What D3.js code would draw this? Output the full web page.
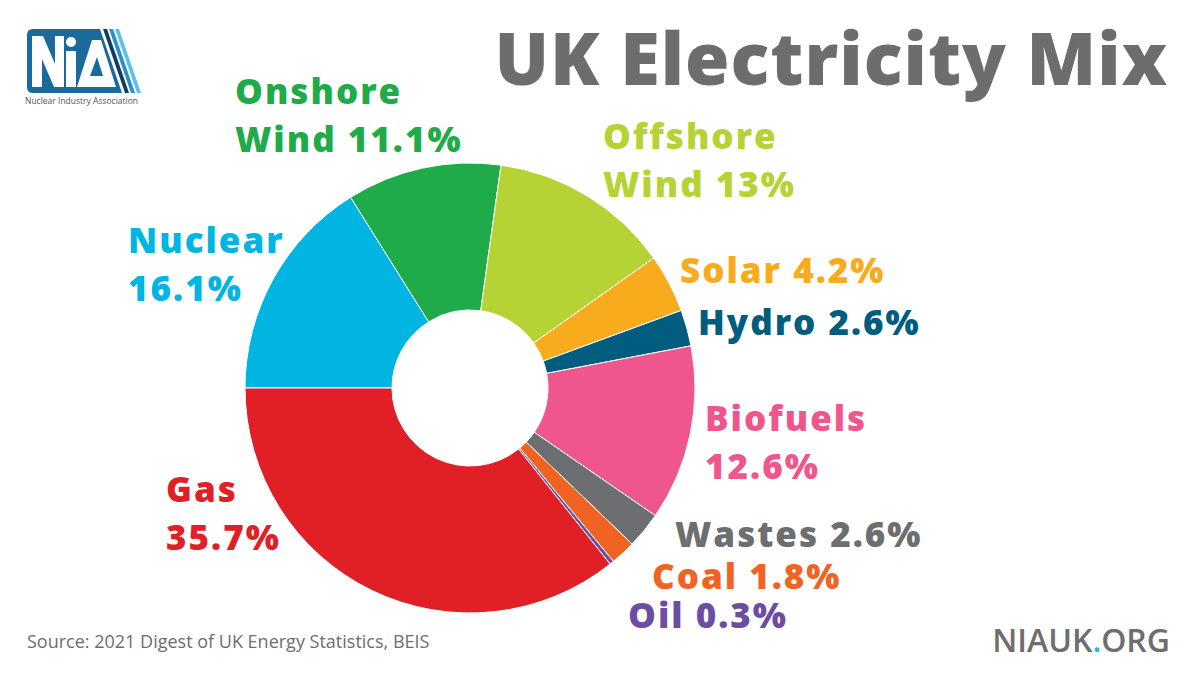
<!DOCTYPE html>
<html>
<head>
<meta charset="utf-8">
<script src="https://cdn.jsdelivr.net/npm/d3@7"></script>
<style>
  html, body { margin: 0; padding: 0; background: #fff; }
  svg { display: block; }
  .lbl { font-family: 'Open Sans', sans-serif; font-weight: 800; letter-spacing: 2px; }
</style>
</head>
<body>
<div id="chart"></div>
<script>
// data -----------------------------------
var sources = ['Nuclear', 'Onshore Wind', 'Offshore Wind', 'Solar', 'Hydro', 'Biofuels', 'Wastes', 'Coal', 'Oil', 'Gas']
var shares = [16.1, 11.1, 13, 4.2, 2.6, 12.6, 2.6, 1.8, 0.3, 35.7]
var colours = ['#00b5e2', '#1fab4a', '#b5d334', '#f8ac1d', '#005d7f', '#ee568d', '#6d6e70', '#f16323', '#6b4ea2', '#e11f26']
// how each label breaks into lines
var labelLines = [
  ['Nuclear', '16.1%'],
  ['Onshore', 'Wind 11.1%'],
  ['Offshore', 'Wind 13%'],
  ['Solar 4.2%'],
  ['Hydro 2.6%'],
  ['Biofuels', '12.6%'],
  ['Wastes 2.6%'],
  ['Coal 1.8%'],
  ['Oil 0.3%'],
  ['Gas', '35.7%']
]
var title = 'UK Electricity Mix'
var sourceNote = 'Source: 2021 Digest of UK Energy Statistics, BEIS'

// layout -----------------------------------
var width = 1200
var height = 675
var cx = 470
var cy = 388
var outerR = 225
var innerR = 78
// x, first baseline of each label
var labelPos = [
  [128, 253], [235, 104], [603, 149], [680, 283], [698, 335],
  [705, 431], [675, 547], [652, 589], [628, 628], [166, 502]
]
var lineGap = 48

var svg = d3.select('#chart').append('svg')
  .attr('width', width)
  .attr('height', height)

// 饼图
var pie = d3.pie().sort(null).value(function (d) { return d })
  .startAngle(-Math.PI / 2)
  .endAngle(Math.PI * 1.5)
var arc = d3.arc().innerRadius(innerR).outerRadius(outerR)

svg.append('g')
  .attr('transform', 'translate(' + cx + ',' + cy + ')')
  .selectAll('path')
  .data(pie(shares))
  .enter()
  .append('path')
  .attr('d', arc)
  .attr('fill', function (d, i) { return colours[i] })
  .attr('stroke', '#fff')
  .attr('stroke-width', 1)

// labels
svg.append('g').selectAll('text')
  .data(sources)
  .enter()
  .append('text')
  .attr('class', 'lbl')
  .attr('x', function (d, i) { return labelPos[i][0] })
  .attr('y', function (d, i) { return labelPos[i][1] })
  .attr('fill', function (d, i) { return colours[i] })
  .style('font-size', '35px')
  .each(function (d, i) {
    d3.select(this).selectAll('tspan')
      .data(labelLines[i])
      .enter()
      .append('tspan')
      .attr('x', labelPos[i][0])
      .attr('dy', function (t, j) { return j === 0 ? 0 : lineGap })
      .text(function (t) { return t })
  })

// title
svg.append('text')
  .attr('x', 1168)
  .attr('y', 85)
  .attr('text-anchor', 'end')
  .attr('fill', '#6d6d6d')
  .style('font-family', "'Open Sans', sans-serif")
  .style('font-weight', 800)
  .style('font-size', '72px')
  .style('letter-spacing', '1px')
  .text(title)

// source
svg.append('text')
  .attr('x', 27)
  .attr('y', 648)
  .attr('fill', '#6d6e70')
  .style('font-family', "'Open Sans', sans-serif")
  .style('font-size', '18px')
  .text(sourceNote)

// footer url
var url = svg.append('text')
  .attr('x', 1170)
  .attr('y', 652)
  .attr('text-anchor', 'end')
  .attr('fill', '#6d6e70')
  .style('font-family', "'Open Sans', sans-serif")
  .style('font-weight', 600)
  .style('font-size', '32px')
url.append('tspan').text('NIAUK')
url.append('tspan').attr('fill', '#29b6e4').text('.')
url.append('tspan').text('ORG')

// logo -----------------------------------
var logo = svg.append('g')
logo.append('path')
  .attr('d', 'M33,29 L100,29 L122,93 L33,93 Q27,93 27,87 L27,35 Q27,29 33,29 Z')
  .attr('fill', '#1b6a9c')
var stripes = [['#123d62', 0], ['#2a8fcb', 6], ['#5cc2ec', 12]]
logo.selectAll('.stripe')
  .data(stripes)
  .enter()
  .append('path')
  .attr('class', 'stripe')
  .attr('d', function (s) {
    var o = s[1]
    return 'M' + (103 + o) + ',29 L' + (107 + o) + ',29 L' + (129 + o) + ',93 L' + (125 + o) + ',93 Z'
  })
  .attr('fill', function (s) { return s[0] })
// N, i, A glyphs of the logo
logo.append('path')
  .attr('d', 'M32,36 L43,36 L55,64 L55,36 L64,36 L64,87 L54,87 L42,59 L42,87 L32,87 Z')
  .attr('fill', '#fff')
logo.append('circle')
  .attr('cx', 71).attr('cy', 42).attr('r', 5)
  .attr('fill', '#fff')
logo.append('path')
  .attr('d', 'M66,51 L76,51 L76,87 L66,87 Z')
  .attr('fill', '#fff')
logo.append('path')
  .attr('d', 'M77,87 L92,40 L101,40 L116,87 Z M90,76 L103,76 L97,57 Z')
  .attr('fill', '#fff')
  .attr('fill-rule', 'evenodd')
logo.append('text')
  .attr('x', 25)
  .attr('y', 104)
  .attr('fill', '#555')
  .style('font-family', "'Open Sans', sans-serif")
  .style('font-size', '8.5px')
  .text('Nuclear Industry Association')
</script>
</body>
</html>
